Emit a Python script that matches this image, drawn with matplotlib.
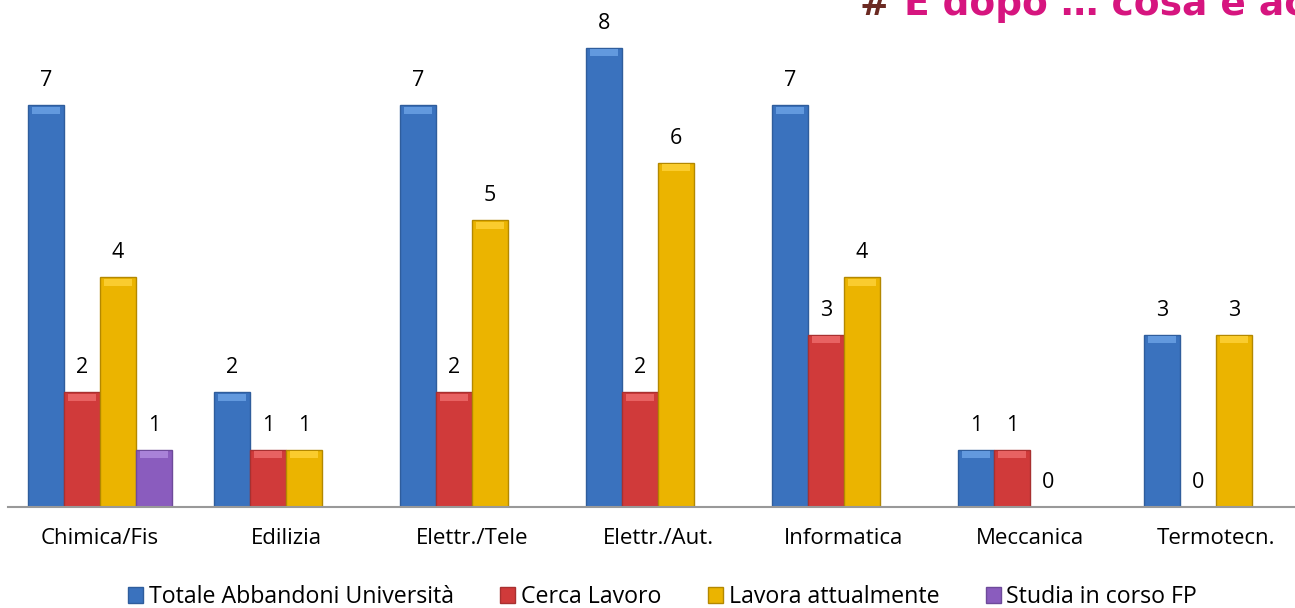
import numpy as np
import matplotlib.pyplot as plt
from matplotlib.patches import Patch

## data
categories = ['Chimica/Fis', 'Edilizia', 'Elettr./Tele', 'Elettr./Aut.',
              'Informatica', 'Meccanica', 'Termotecn.']
series = ['Totale Abbandoni Università', 'Cerca Lavoro',
          'Lavora attualmente', 'Studia in corso FP']
totale = [7, 2, 7, 8, 7, 1, 3]
cerca = [2, 1, 2, 2, 3, 1, 0]
lavora = [4, 1, 5, 6, 4, 0, 3]
studia = [1, np.nan, np.nan, np.nan, np.nan, np.nan, np.nan]

colors = ['#3A72BE', '#D03A3A', '#EBB400', '#8A5CBE']
edges = ['#2F5D9C', '#A83030', '#B38800', '#6E4A9A']
tops = ['#6299DE', '#E86262', '#FACC2E', '#A982D8']

plt.rcParams['font.family'] = ['Open Sans', 'DejaVu Sans']

fig = plt.figure(figsize=(12.95, 6.08), dpi=100)
ax = fig.add_axes([8 / 1295, 101 / 608, 1287 / 1295, 488 / 608])

x = np.arange(len(categories))
w = 0.1935
values = [totale, cerca, lavora, studia]

for k, vals in enumerate(values):
    vals = np.array(vals, dtype=float)
    pos = x + (k - 1.5) * w
    ax.bar(pos, vals, w, color=colors[k], edgecolor=edges[k], linewidth=1.0, zorder=2)
    # light bevel on top of each bar
    strip = np.where(vals > 0, 0.12, np.nan)
    ax.bar(pos, strip, w * 0.8, bottom=vals - 0.15, color=tops[k],
           linewidth=0, zorder=3)
    for p, v in zip(pos, vals):
        if np.isnan(v):
            continue
        ax.annotate(f'{int(v)}', (p, v), xytext=(0, 10), textcoords='offset points',
                    ha='center', va='bottom', fontsize=15.5)

ax.set_xlim(-0.495, 6.425)
ax.set_ylim(0, 8.5)
ax.set_xticks(x)
ax.set_xticklabels(categories, fontsize=16)
ax.tick_params(axis='x', length=0, pad=15)
ax.set_yticks([])
for s in ['top', 'right', 'left']:
    ax.spines[s].set_visible(False)
ax.spines['bottom'].set_color('#999999')
ax.spines['bottom'].set_linewidth(1.5)

handles = [Patch(facecolor=colors[k], edgecolor=edges[k]) for k in range(4)]
fig.legend(handles, series, loc='center', bbox_to_anchor=(0.5116, 0.018),
           ncol=4, frameon=False, fontsize=16.7, handlelength=0.65, handleheight=0.65,
           handletextpad=0.25, columnspacing=2.0)

# cut-off title in the top right
fig.text(860 / 1295, 1 - 15 / 608, '#', color='#6B2A22', fontsize=26,
         fontweight='bold', va='baseline', family='DejaVu Sans')
fig.text(904 / 1295, 1 - 15 / 608, 'E dopo … cosa è ac', color='#D6157F',
         fontsize=27, fontweight='bold', va='baseline', family='DejaVu Sans')

fig.savefig('out.png', dpi=100)
